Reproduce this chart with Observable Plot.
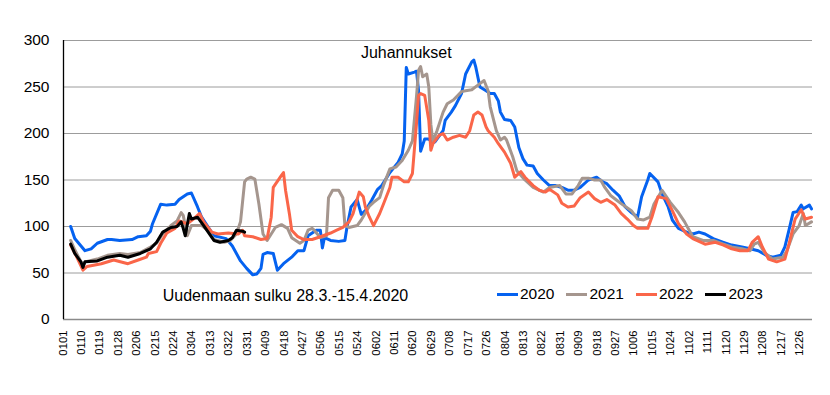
<!DOCTYPE html>
<html><head><meta charset="utf-8">
<script src="https://cdn.jsdelivr.net/npm/d3@7"></script>
<script src="https://cdn.jsdelivr.net/npm/@observablehq/plot@0.6"></script>
<style>
body{margin:0;background:#fff;font-family:"Liberation Sans",Arial,sans-serif;}
#wrap{position:relative;width:830px;height:395px;overflow:hidden;}
#legend{position:absolute;left:497px;top:285px;font-size:15.5px;line-height:18px;display:flex;align-items:center;color:#000;}
.item{display:flex;align-items:center;margin-right:12px;}
.sw{display:inline-block;width:21px;height:3px;margin-right:2px;}
</style></head><body><div id="wrap"><div id="chart"></div><div id="legend"></div></div>
<script>
const series = ["2020", "2021", "2022", "2023"];
const colors = ["#0562f0", "#a5968e", "#fa6649", "#000000"];
const yTicks = [0, 50, 100, 150, 200, 250, 300];
const tickLabels = ["0101","0110","0119","0128","0206","0215","0224","0304","0313","0322","0331","0409","0418","0427","0506","0515","0524","0602","0611","0620","0629","0708","0717","0726","0804","0813","0822","0831","0909","0918","0927","1006","1015","1024","1102","1111","1120","1129","1208","1217","1226"];

// day index from 1 Jan (leap-year calendar), value
const days2020 = [3,5,10,13,16,21,23,27,33,36,40,42,43,47,50,54,56,60,62,65,67,73,79,82,86,89,92,94,96,97,99,102,104,107,111,114,117,119,123,125,126,127,130,134,137,138,140,143,145,147,150,153,155,159,163,165,166,167,168,171,172,173,174,176,178,180,181,185,186,189,191,194,196,199,200,201,203,206,208,210,212,213,215,218,220,222,224,226,229,231,234,237,240,243,246,249,252,256,260,263,265,268,271,274,277,280,282,285,286,290,292,295,297,300,304,307,310,313,317,322,326,331,335,339,343,346,350,352,354,356,358,360,361,364,365];
const vals2020 = [100,87,74,76,82,86,86,85,86,89,90,95,103,124,123,124,129,135,136,121,110,90,87,79,63,55,48,49,55,70,72,71,53,60,67,74,74,90,96,96,77,88,85,84,85,99,121,129,113,117,128,140,144,158,169,178,192,271,264,266,267,246,181,194,194,190,191,203,214,223,230,243,264,277,279,271,250,246,243,243,235,223,215,214,207,185,173,166,165,157,150,144,144,142,139,139,142,150,153,148,146,139,133,121,115,110,132,150,157,148,135,121,107,98,94,92,94,92,87,83,80,78,76,74,69,67,69,78,96,115,116,123,119,123,119];

const days2021 = [3,5,9,10,16,21,27,31,37,42,45,48,52,55,57,58,60,62,67,70,73,78,81,84,86,88,89,91,93,95,97,99,103,106,109,111,115,117,119,121,122,125,128,129,131,134,136,137,139,143,145,149,151,154,156,159,162,165,168,170,172,173,174,175,177,178,179,180,182,185,187,190,194,196,199,202,205,207,208,211,213,215,216,219,221,225,229,234,237,242,245,248,251,253,256,259,262,264,267,270,273,277,280,283,286,288,292,296,300,303,307,312,317,322,326,331,335,337,339,342,346,351,353,356,359,361,362,365];
const vals2021 = [85,75,58,62,65,69,71,70,72,78,82,92,101,106,115,112,90,101,101,96,86,83,85,92,105,148,151,153,151,124,92,85,99,102,98,88,82,85,96,98,96,88,90,131,139,139,131,101,99,101,107,122,126,131,145,162,164,171,182,192,240,268,272,261,264,250,210,191,203,223,232,236,245,246,247,252,257,246,229,203,193,196,193,175,160,150,142,137,142,144,135,135,144,152,152,150,150,142,133,128,123,117,108,107,110,124,139,126,115,105,89,85,85,81,78,76,74,81,83,72,65,67,74,92,101,114,101,105];

const days2022 = [3,6,9,11,18,24,31,36,40,41,45,47,50,54,56,60,63,66,68,72,75,80,85,87,88,92,96,99,101,102,106,107,108,110,111,114,117,121,125,130,133,136,139,141,144,146,147,149,151,154,156,159,160,163,166,168,170,172,173,174,176,178,179,180,183,185,187,190,193,196,198,200,202,204,206,207,210,212,215,218,220,223,225,229,232,235,237,241,243,246,249,252,256,259,262,265,269,272,275,278,280,285,287,290,294,297,300,304,307,313,318,322,326,330,334,336,339,341,344,348,352,354,357,360,362,365];
const vals2022 = [80,67,53,57,60,64,60,64,67,71,73,82,93,98,106,103,108,114,105,94,92,93,92,96,90,89,86,87,110,142,155,158,139,112,96,89,86,86,89,93,96,99,105,114,137,132,121,110,101,114,125,142,153,153,148,148,157,211,241,243,241,214,182,189,198,200,193,196,198,196,203,220,223,220,207,203,196,189,180,168,153,159,153,144,139,137,140,134,125,121,122,131,137,130,126,129,123,114,108,101,98,98,110,132,130,117,103,92,87,81,83,80,76,74,74,83,89,78,65,62,65,81,108,118,108,110];

const days2023 = [3,5,8,9,10,16,21,27,31,37,42,45,48,52,55,57,58,59,61,62,65,68,73,76,80,82,84,87,88];
const vals2023 = [81,71,62,56,62,63,67,69,67,71,76,83,94,99,100,105,98,90,114,108,110,101,85,83,85,88,96,95,94];

const noteMid = [{text: "Juhannukset", day: 167, value: 287}];
const noteStart = [{text: "Uudenmaan sulku 28.3.-15.4.2020", day: 48, value: 25}];

const allDays = [days2020, days2021, days2022, days2023];
const allVals = [vals2020, vals2021, vals2022, vals2023];
const rows = [];
series.forEach((s, k) => allDays[k].forEach((d, i) => rows.push({year: s, day: d, value: allVals[k][i]})));
const tickDays = tickLabels.map((_, i) => i * 9);

const chart = Plot.plot({
  width: 830, height: 395,
  marginLeft: 63, marginRight: 18, marginTop: 40, marginBottom: 76,
  style: {fontFamily: "'Liberation Sans', Arial, sans-serif", background: "#fff", color: "#000"},
  x: {domain: [-0.5, 365.5], axis: null},
  y: {domain: [0, 300], axis: null},
  color: {domain: series, range: colors},
  marks: [
    Plot.ruleY(yTicks.filter(d => d > 0), {stroke: "#9c9c9c", strokeWidth: 1}),
    Plot.ruleY([0], {stroke: "#8a8a8a", strokeWidth: 1.3}),
    Plot.ruleX([-0.5], {stroke: "#000", strokeWidth: 1.3}),
    Plot.text(yTicks, {y: d => d, text: d => String(d), frameAnchor: "left", textAnchor: "end", dx: -14, fontSize: 15.5, fill: "#000"}),
    Plot.text(tickDays, {x: d => d, text: d => tickLabels[d / 9], frameAnchor: "bottom", rotate: -90, textAnchor: "end", dx: 2, dy: 11, fontSize: 11.3, fill: "#000"}),
    Plot.line(rows, {x: "day", y: "value", z: "year", stroke: "year", strokeWidth: 3, curve: "linear", strokeLinejoin: "round"}),
    Plot.text(noteMid, {x: "day", y: "value", text: "text", textAnchor: "middle", fontSize: 16, fill: "#000"}),
    Plot.text(noteStart, {x: "day", y: "value", text: "text", textAnchor: "start", fontSize: 16, fill: "#000"})
  ]
});
document.getElementById("chart").appendChild(chart);

const legend = document.getElementById("legend");
series.forEach((s, k) => {
  const it = document.createElement("div");
  it.className = "item";
  it.innerHTML = `<span class="sw" style="background:${colors[k]}"></span><span>${s}</span>`;
  legend.appendChild(it);
});
</script></body></html>
